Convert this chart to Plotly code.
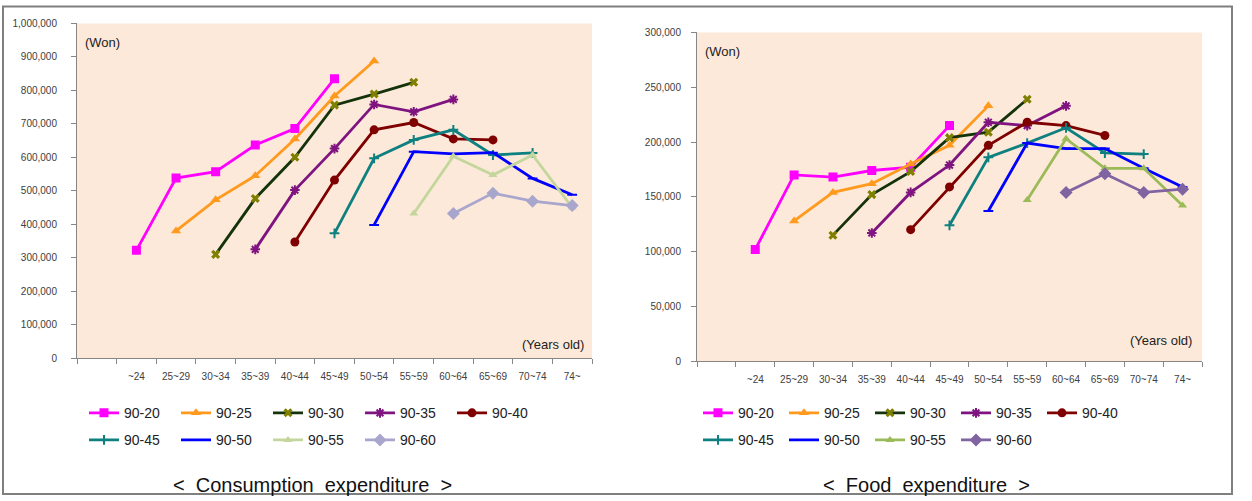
import plotly.graph_objects as go

# ---------------- data ----------------
AGES = [" ", "~24", "25~29", "30~34", "35~39", "40~44", "45~49",
        "50~54", "55~59", "60~64", "65~69", "70~74", "74~"]
COHORTS = ["90-20", "90-25", "90-30", "90-35", "90-40",
           "90-45", "90-50", "90-55", "90-60"]
FIRST_AGE = ["~24", "25~29", "30~34", "35~39", "40~44",
             "45~49", "50~54", "55~59", "60~64"]

# Consumption expenditure (Won)
cons_90_20 = [322000, 538000, 557000, 637000, 686000, 835000]
cons_90_25 = [380000, 473000, 545000, 655000, 783000, 888000]
cons_90_30 = [310000, 477000, 600000, 756000, 789000, 824000]
cons_90_35 = [325000, 502000, 626000, 758000, 736000, 773000]
cons_90_40 = [347000, 532000, 682000, 704000, 655000, 652000]
cons_90_45 = [373000, 597000, 652000, 682000, 607000, 613000]
cons_90_50 = [398000, 617000, 610000, 614000, 537000, 488000]
cons_90_55 = [432000, 603000, 547000, 607000, 450000]
cons_90_60 = [432000, 493000, 469000, 456000]

# Food expenditure (Won)
food_90_20 = [102000, 170000, 168000, 174000, 177000, 215000]
food_90_25 = [128000, 154000, 162000, 180000, 197000, 233000]
food_90_30 = [115000, 152000, 173000, 204000, 209000, 239000]
food_90_35 = [117000, 154000, 179000, 218000, 215000, 233000]
food_90_40 = [120000, 159000, 197000, 218000, 215000, 206000]
food_90_45 = [124000, 186000, 199000, 213000, 190000, 189000]
food_90_50 = [137000, 199000, 194000, 194000, 176000, 159000]
food_90_55 = [147000, 203000, 176000, 176000, 142000]
food_90_60 = [154000, 171000, 154000, 157000]

CONS = [cons_90_20, cons_90_25, cons_90_30, cons_90_35, cons_90_40,
        cons_90_45, cons_90_50, cons_90_55, cons_90_60]
FOOD = [food_90_20, food_90_25, food_90_30, food_90_35, food_90_40,
        food_90_45, food_90_50, food_90_55, food_90_60]

CONS_TICKS = [0, 100000, 200000, 300000, 400000, 500000,
              600000, 700000, 800000, 900000, 1000000]
FOOD_TICKS = [0, 50000, 100000, 150000, 200000, 250000, 300000]

# ---------------- styles ----------------
LINE_CONS = ["#FF00FF", "#FF9A1F", "#14330A", "#7F1480", "#7F0000",
             "#0E8080", "#0000FF", "#C3D69B", "#A9A6CE"]
LINE_FOOD = ["#FF00FF", "#FF9A1F", "#14330A", "#7F1480", "#7F0000",
             "#0E8080", "#0000FF", "#9BBB59", "#8064A2"]
MARK_CONS = ["#FF00FF", "#FF9A1F", "#808000", "#7F1480", "#7F0000",
             "#0E8080", "#0000FF", "#C3D69B", "#A9A6CE"]
MARK_FOOD = ["#FF00FF", "#FF9A1F", "#808000", "#7F1480", "#7F0000",
             "#0E8080", "#0000FF", "#9BBB59", "#8064A2"]
SYMBOLS = ["square", "triangle-up", "x", "asterisk-open", "circle",
           "cross-thin-open", "line-ew-open", "triangle-up", "diamond"]
SIZES = [9, 9, 8, 8, 9, 7, 7, 8, 10]

W, H = 1252, 501
FONT = "Liberation Sans"
AX_COL = "#868686"
TXT_COL = "#404040"


def py(y):
    """vertical pixel position (from top) -> paper fraction"""
    y = min(max((y - 5.6) / 0.976, 0.5), H - 1)
    return (H - y) / H


fig = go.Figure()


def add_series(data, xaxis, yaxis, line_cols, mark_cols, leg_a, leg_b):
    for i, (name, first, vals) in enumerate(zip(COHORTS, FIRST_AGE, data)):
        s = AGES.index(first)
        xs = AGES[s:s + len(vals)]
        sym = SYMBOLS[i]
        open_sym = sym.endswith("-open")
        fig.add_trace(go.Scatter(
            x=xs, y=vals, name=name, mode="lines+markers",
            xaxis=xaxis, yaxis=yaxis,
            legend=leg_a if i < 5 else leg_b,
            line=dict(color=line_cols[i], width=2.8),
            marker=dict(symbol=sym, size=SIZES[i], color=mark_cols[i],
                        line=dict(color=mark_cols[i],
                                  width=2 if open_sym else 0)),
            hoverinfo="x+y+name",
        ))


add_series(CONS, "x", "y", LINE_CONS, MARK_CONS, "legend", "legend2")
add_series(FOOD, "x2", "y2", LINE_FOOD, MARK_FOOD, "legend3", "legend4")


def xax(domain, anchor):
    return dict(domain=domain, anchor=anchor, type="category",
                categoryorder="array", categoryarray=AGES,
                range=[-0.5, len(AGES) - 0.5],
                tickson="boundaries", ticks="outside", ticklen=5,
                tickcolor=AX_COL, showline=True, linecolor=AX_COL,
                linewidth=1, showgrid=False, zeroline=False,
                tickfont=dict(family=FONT, size=10, color=TXT_COL),
                ticklabelstandoff=9, fixedrange=True)


def yax(domain, anchor, ticks, standoff):
    return dict(domain=domain, anchor=anchor, range=[ticks[0], ticks[-1]],
                tickvals=ticks, tickformat=",", ticks="outside", ticklen=5,
                tickcolor=AX_COL, showline=True, linecolor=AX_COL,
                linewidth=1, showgrid=False, zeroline=False,
                tickfont=dict(family=FONT, size=10, color=TXT_COL),
                ticklabelstandoff=standoff, fixedrange=True)


PLOT_BG = "#FDE9D9"
lx = [77 / W, 592 / W]
ly = [py(358), py(24)]
rx = [697 / W, 1202 / W]
ry = [py(361), py(33)]

leg_common = dict(orientation="h", xanchor="left", yanchor="middle",
                  font=dict(family=FONT, size=14, color="#222222"),
                  bgcolor="rgba(0,0,0,0)", borderwidth=0,
                  itemsizing="trace", entrywidthmode="pixels")

fig.update_layout(
    width=W, height=H,
    margin=dict(l=0, r=0, t=0, b=0),
    paper_bgcolor="white",
    plot_bgcolor="rgba(0,0,0,0)",
    font=dict(family=FONT),
    showlegend=True,
    xaxis=xax(lx, "y"),
    yaxis=yax(ly, "x", CONS_TICKS, 12),
    xaxis2=xax(rx, "y2"),
    yaxis2=yax(ry, "x2", FOOD_TICKS, 8),
    legend=dict(leg_common, x=84 / W, y=py(413), entrywidth=47),
    legend2=dict(leg_common, x=84 / W, y=py(440), entrywidth=47),
    legend3=dict(leg_common, x=698 / W, y=py(413), entrywidth=41),
    legend4=dict(leg_common, x=698 / W, y=py(440), entrywidth=41),
)

# plot backgrounds + outer frame
fig.add_shape(type="rect", xref="x domain", yref="y domain", x0=0, x1=1,
              y0=0, y1=1, fillcolor=PLOT_BG, line_width=0, layer="below")
fig.add_shape(type="rect", xref="x2 domain", yref="y2 domain", x0=0, x1=1,
              y0=0, y1=1, fillcolor=PLOT_BG, line_width=0, layer="below")
fig.add_shape(type="rect", xref="paper", yref="paper",
              x0=3 / W, x1=1232 / W, y0=py(499), y1=py(7),
              line=dict(color="#7F7F7F", width=2), fillcolor="rgba(0,0,0,0)")

# inner labels
ann_font = dict(family=FONT, size=13, color="#222222")
fig.add_annotation(text="(Won)", xref="x domain", yref="paper",
                   x=6 / 515, y=py(43), xanchor="left",
                   yanchor="middle", showarrow=False, font=ann_font)
fig.add_annotation(text="(Years old)", xref="x domain", yref="paper",
                   x=1 - 6 / 515, y=py(344), xanchor="right",
                   yanchor="middle", showarrow=False, font=ann_font)
fig.add_annotation(text="(Won)", xref="x2 domain", yref="paper",
                   x=6 / 505, y=py(52), xanchor="left",
                   yanchor="middle", showarrow=False, font=ann_font)
fig.add_annotation(text="(Years old)", xref="x2 domain", yref="paper",
                   x=1 - 8 / 505, y=py(340), xanchor="right",
                   yanchor="middle", showarrow=False, font=ann_font)

# captions
cap_font = dict(family=FONT, size=20, color="#111111")
NB = "\u00a0"
fig.add_annotation(text=f"<{NB}{NB}Consumption{NB}{NB}expenditure{NB}{NB}>",
                   xref="paper", yref="paper", x=312 / W, y=py(485),
                   xanchor="center", yanchor="middle", showarrow=False,
                   font=cap_font)
fig.add_annotation(text=f"<{NB}{NB}Food{NB}{NB}expenditure{NB}{NB}>",
                   xref="paper", yref="paper", x=926 / W, y=py(485),
                   xanchor="center", yanchor="middle", showarrow=False,
                   font=cap_font)

fig.write_html(
    "out.html",
    config={"displayModeBar": False},
    post_script="document.body.style.margin='0';"
                "document.body.style.overflow='hidden';",
)
